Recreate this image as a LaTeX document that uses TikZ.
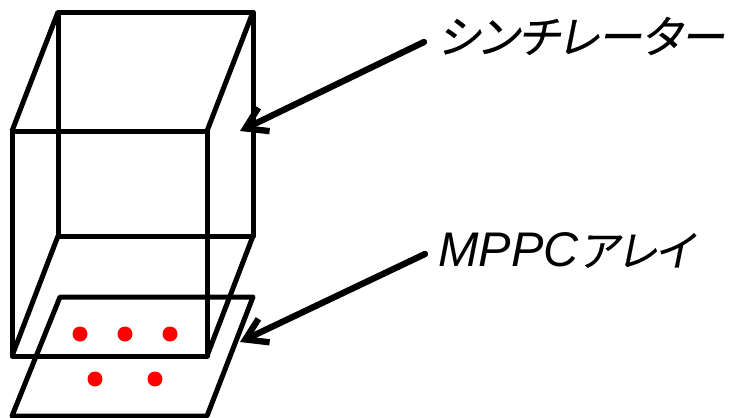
\documentclass[tikz,border=0pt]{standalone}
\usepackage{fontspec}
\setmainfont{Liberation Sans}
\newfontfamily\cjk[FakeSlant=0.2,FakeBold=0.4,RawFeature=+palt]{Noto Sans CJK JP}
\usetikzlibrary{arrows.meta,positioning}

\begin{document}
\begin{tikzpicture}[x=0.03cm,y=-0.03cm,line join=round,>={Straight Barb[length=0.62cm,width=0.78cm]}]
\tikzset{boxline/.style={line width=0.15cm},
         pointer/.style={line width=0.19cm,->,line cap=round},
         label/.style={inner sep=0pt,anchor=west,font=\fontsize{38}{38}\selectfont}}
\useasboundingbox (0,0) rectangle (742,418);
% block
\draw[boxline] (12,131) rectangle (207,356);
\draw[boxline] (58,12) rectangle (253,236);
\draw[boxline] (12,131) -- (58,12) (207,131) -- (253,12);
\draw[boxline] (12,356) -- (58,236) (207,356) -- (253,236);
% array plate
\draw[boxline] (60,297) -- (253,297) -- (207,416) -- (12,416) -- cycle;
\foreach \x/\y in {80/334,125/334,170/334,95/379,155/379}
  \fill[red] (\x,\y) circle (7.5);
% labels
\node[label] (scint) at (437,36) {\cjk シンチレーター};
\node[label] (mppc) at (438,250) {{\fontsize{41.5}{41.5}\selectfont\textit{MPPC}}{\cjk\fontsize{36}{36}\selectfont アレイ}};
\coordinate (scinttip) at (240,131);
\coordinate (mppctip) at (240,342);
\draw[pointer] (scint.west)+(-13,6) -- (scinttip);
\draw[pointer] (mppc.west)+(-13,4) -- (mppctip);
\end{tikzpicture}
\end{document}
